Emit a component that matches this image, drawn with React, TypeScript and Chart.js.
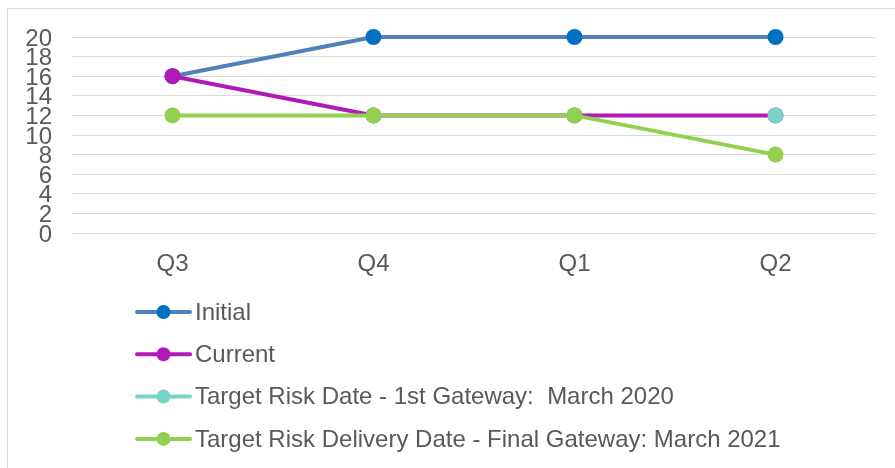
import React, { useEffect, useRef } from "react";
import { Chart, registerables } from "chart.js";

Chart.register(...registerables);

const quarters = ["Q3", "Q4", "Q1", "Q2"];
const initialRisk = [16, 20, 20, 20];
const currentRisk = [16, 12, 12, 12];
const targetFirstGateway = [null, null, null, 12];
const targetFinalGateway = [12, 12, 12, 8];
const yTicks = [0, 2, 4, 6, 8, 10, 12, 14, 16, 18, 20];

const FONT = "'Liberation Sans', Arial, sans-serif";
const TEXT = "#595959";

// Vertical legend drawn under the plot, one entry per row.
const stackedLegend = {
  id: "stackedLegend",
  afterDraw(chart: any) {
    const ctx = chart.ctx;
    const left = 137;
    const lineEnd = 190;
    const top = 312;
    const rowGap = 42.3;
    ctx.save();
    chart.data.datasets.forEach((ds: any, i: number) => {
      const y = top + i * rowGap;
      ctx.strokeStyle = ds.borderColor;
      ctx.lineWidth = 4;
      ctx.lineCap = "round";
      ctx.beginPath();
      ctx.moveTo(left, y);
      ctx.lineTo(lineEnd, y);
      ctx.stroke();
      ctx.fillStyle = ds.pointBackgroundColor;
      ctx.beginPath();
      ctx.arc((left + lineEnd) / 2, y, 7, 0, Math.PI * 2);
      ctx.fill();
      ctx.fillStyle = TEXT;
      ctx.font = `24px ${FONT}`;
      ctx.textBaseline = "middle";
      ctx.textAlign = "left";
      ctx.fillText(ds.label, lineEnd + 5, y + 1);
    });
    ctx.restore();
  },
};

export default function App() {
  const canvasRef = useRef<HTMLCanvasElement | null>(null);

  useEffect(() => {
    if (!canvasRef.current) return;
    const series = (
      label: string,
      data: (number | null)[],
      line: string,
      point: string,
      order: number
    ) => ({
      label,
      data,
      borderColor: line,
      backgroundColor: point,
      pointBackgroundColor: point,
      pointBorderColor: point,
      pointBorderWidth: 0,
      pointRadius: 8,
      borderWidth: 4,
      tension: 0,
      clip: false as const,
      order,
    });
    const chart = new Chart(canvasRef.current, {
      type: "line",
      data: {
        labels: quarters,
        datasets: [
          series("Initial", initialRisk, "#4f81bd", "#0070c0", 4),
          series("Current", currentRisk, "#b01ab8", "#b01ab8", 3),
          series("Target Risk Date - 1st Gateway:  March 2020", targetFirstGateway, "#77d5c8", "#77d5c8", 2),
          series("Target Risk Delivery Date - Final Gateway: March 2021", targetFinalGateway, "#92d050", "#92d050", 1),
        ],
      },
      options: {
        responsive: false,
        animation: false,
        layout: { padding: { left: 0, top: 37, right: 19, bottom: 175 } },
        plugins: { legend: { display: false }, tooltip: { enabled: false } },
        scales: {
          x: {
            offset: true,
            grid: { display: false },
            border: { display: false },
            ticks: {
              color: TEXT,
              font: { family: FONT, size: 24 },
              padding: 9,
            },
            afterFit(scale: any) {
              scale.height = 60;
            },
          },
          y: {
            min: 0,
            max: 20,
            afterBuildTicks(scale: any) {
              scale.ticks = yTicks.map((v) => ({ value: v }));
            },
            grid: { color: "#d9d9d9", lineWidth: 1, drawTicks: false },
            border: { display: false },
            ticks: {
              autoSkip: false,
              color: TEXT,
              font: { family: FONT, size: 24, lineHeight: 1 },
              padding: 20,
              labelOffset: 2,
            },
            afterFit(scale: any) {
              scale.width = 72;
            },
          },
        },
      },
      plugins: [stackedLegend],
    });
    return () => chart.destroy();
  }, []);

  return (
    <div
      style={{
        position: "absolute",
        left: 0,
        top: 0,
        width: 895,
        height: 468,
        overflow: "hidden",
        background: "#ffffff",
      }}
    >
      <div
        style={{
          position: "absolute",
          left: 7,
          top: 8,
          width: 900,
          height: 480,
          border: "1px solid #d9d9d9",
        }}
      />
      <canvas
        ref={canvasRef}
        width={895}
        height={468}
        style={{ position: "absolute", left: 0, top: 0 }}
      />
    </div>
  );
}
